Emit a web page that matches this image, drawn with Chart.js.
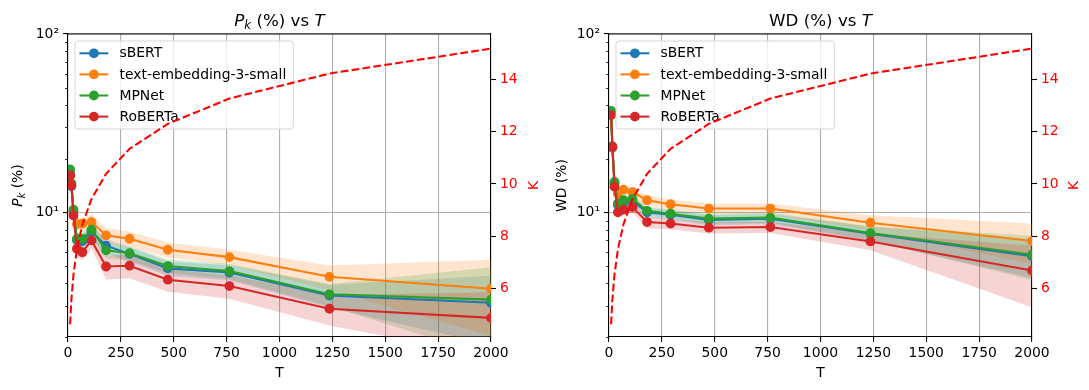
<!DOCTYPE html>
<html><head><meta charset="utf-8">
<script src="https://cdn.jsdelivr.net/npm/chart.js@4/dist/chart.umd.min.js"></script>
<style>
html,body{margin:0;padding:0;background:#fff;}
#wrap{position:relative;width:1089px;height:390px;overflow:hidden;}
canvas{position:absolute;top:0;}
</style></head><body>
<div id="wrap">
<canvas id="c1" width="545" height="390" style="left:0;width:545px;height:390px"></canvas>
<canvas id="c2" width="544" height="390" style="left:545px;width:544px;height:390px"></canvas>
</div>
<script>
// ---- data ----
const T = [10, 16, 26, 42, 68, 111, 180, 291, 472, 763, 1236, 2000];
const K = [4.61, 5.55, 6.52, 7.48, 8.44, 9.42, 10.39, 11.35, 12.31, 13.28, 14.24, 15.2];
const models = ['sBERT', 'text-embedding-3-small', 'MPNet', 'RoBERTa'];

const pkSBERT   = [16.5, 14.0, 10.0, 7.0, 6.9, 7.8, 6.5, 5.85, 4.85, 4.6, 3.42, 3.11];
const pkTE3     = [16.0, 14.3, 10.1, 8.6, 8.64, 8.82, 7.43, 7.11, 6.17, 5.61, 4.35, 3.73];
const pkMPNet   = [17.4, 14.5, 10.35, 7.1, 7.1, 8.0, 6.12, 5.9, 5.0, 4.68, 3.47, 3.24];
const pkRoBERTa = [16.1, 14.2, 9.6, 6.25, 5.98, 6.96, 4.97, 5.02, 4.19, 3.86, 2.88, 2.56];

const pkSBERTStd   = [1.5, 1.3, 0.9, 0.6, 0.6, 0.7, 0.6, 0.55, 0.45, 0.45, 0.5, 1.3];
const pkTE3Std     = [1.5, 1.3, 0.9, 0.7, 0.7, 0.9, 0.75, 0.7, 0.6, 0.55, 0.69, 1.7];
const pkMPNetStd   = [1.5, 1.3, 0.9, 0.6, 0.6, 0.7, 0.6, 0.55, 0.45, 0.45, 0.5, 1.68];
const pkRoBERTaStd = [1.5, 1.3, 0.9, 0.6, 0.6, 0.7, 0.77, 0.75, 0.6, 0.58, 0.56, 1.0];

const wdSBERT   = [36.0, 23.0, 14.5, 11.0, 11.3, 11.6, 10.0, 9.7, 9.05, 9.2, 7.6, 5.68];
const wdTE3     = [36.5, 23.2, 14.5, 12.7, 13.4, 13.0, 11.7, 11.1, 10.5, 10.5, 8.75, 6.9];
const wdMPNet   = [37.1, 23.5, 14.8, 11.2, 11.7, 11.9, 10.2, 9.83, 9.22, 9.34, 7.65, 5.78];
const wdRoBERTa = [35.1, 23.3, 13.9, 10.0, 10.35, 10.7, 8.82, 8.65, 8.2, 8.27, 6.87, 4.72];

const wdSBERTStd   = [2.0, 1.5, 1.0, 0.7, 0.7, 0.7, 0.6, 0.6, 0.6, 0.6, 0.7, 1.4];
const wdTE3Std     = [2.0, 1.5, 1.0, 0.8, 0.8, 0.8, 0.76, 0.7, 0.7, 0.7, 0.87, 1.75];
const wdMPNetStd   = [2.0, 1.5, 1.0, 0.7, 0.7, 0.7, 0.6, 0.6, 0.6, 0.6, 0.7, 1.6];
const wdRoBERTaStd = [2.0, 1.5, 1.0, 0.7, 0.7, 0.7, 0.7, 0.6, 0.6, 0.6, 0.75, 1.78];

const xTicks = [0, 250, 500, 750, 1000, 1250, 1500, 1750, 2000];
const yTicks = [2, 3, 4, 5, 6, 7, 8, 9, 10, 20, 30, 40, 50, 60, 70, 80, 90, 100];
const yMajor = [10, 100];
const kTicks = [6, 8, 10, 12, 14];

// ---- styling ----
const colors = ['#1f77b4', '#ff7f0e', '#2ca02c', '#d62728'];
const fills = ['rgba(31,119,180,0.2)', 'rgba(255,127,14,0.2)', 'rgba(44,160,44,0.2)', 'rgba(214,39,40,0.2)'];
const FONT = 'DejaVu Sans';
const FS = 13.9;
const MR = 4.2;

function fontStr(s, size) {
  const sz = s.sub ? size * 0.7 : size;
  return (s.it ? 'italic ' : '') + sz + 'px "' + FONT + '"';
}
function drawRich(ctx, segs, cx, cy, size, color, rot) {
  ctx.save();
  ctx.translate(cx, cy);
  if (rot) ctx.rotate(rot);
  let w = 0;
  segs.forEach(s => { ctx.font = fontStr(s, size); w += ctx.measureText(s.t).width; });
  let x = -w / 2;
  ctx.fillStyle = color;
  ctx.textBaseline = 'alphabetic';
  ctx.textAlign = 'left';
  segs.forEach(s => {
    ctx.font = fontStr(s, size);
    const y = size * 0.36 + (s.sub ? size * 0.22 : 0);
    ctx.fillText(s.t, x, y);
    x += ctx.measureText(s.t).width;
  });
  ctx.restore();
}

function buildDatasets(series, stds) {
  const ds = [];
  ds.push({
    label: 'K', data: T.map((t, i) => ({x: t, y: K[i]})), yAxisID: 'y2',
    borderColor: '#ff0000', borderDash: [7.7, 3.3], borderWidth: 2.08,
    pointRadius: 0, fill: false, order: 0, tension: 0
  });
  series.forEach((s, j) => {
    ds.push({
      label: models[j], data: T.map((t, i) => ({x: t, y: s[i]})), yAxisID: 'y',
      borderColor: colors[j], backgroundColor: colors[j], borderWidth: 2.08,
      pointRadius: MR, pointBorderWidth: 1.39, pointBackgroundColor: colors[j],
      pointBorderColor: colors[j], fill: false, order: 4 - j, tension: 0
    });
  });
  series.forEach((s, j) => {
    const idx = ds.length;
    ds.push({
      label: '_hi', data: T.map((t, i) => ({x: t, y: s[i] + stds[j][i]})), yAxisID: 'y',
      borderColor: 'rgba(0,0,0,0)', borderWidth: 1, pointRadius: 0,
      backgroundColor: fills[j], fill: idx + 1, order: 8 - j, tension: 0
    });
    ds.push({
      label: '_lo', data: T.map((t, i) => ({x: t, y: Math.max(0.01, s[i] - stds[j][i])})), yAxisID: 'y',
      borderColor: 'rgba(0,0,0,0)', borderWidth: 1, pointRadius: 0,
      backgroundColor: 'rgba(0,0,0,0)', fill: false, order: 8 - j, tension: 0
    });
  });
  return ds;
}

function makeChart(id, W, areaLeft, areaRight, series, stds, title, ylab, klabX) {
  const deco = {
    id: 'deco' + id,
    beforeDatasetDraw(chart, args) {
      if (args.index !== 0) return;
      // legend (drawn below the K line)
      const ctx = chart.ctx, a = chart.chartArea;
      ctx.save();
      ctx.font = FS + 'px "' + FONT + '"';
      let maxW = 0;
      models.forEach(m => { maxW = Math.max(maxW, ctx.measureText(m).width); });
      const bx = a.left + 7, by = a.top + 7;
      const bw = 44.5 + maxW + 7, bh = 88;
      ctx.beginPath();
      const r = 3;
      ctx.moveTo(bx + r, by); ctx.lineTo(bx + bw - r, by); ctx.quadraticCurveTo(bx + bw, by, bx + bw, by + r);
      ctx.lineTo(bx + bw, by + bh - r); ctx.quadraticCurveTo(bx + bw, by + bh, bx + bw - r, by + bh);
      ctx.lineTo(bx + r, by + bh); ctx.quadraticCurveTo(bx, by + bh, bx, by + bh - r);
      ctx.lineTo(bx, by + r); ctx.quadraticCurveTo(bx, by, bx + r, by);
      ctx.closePath();
      ctx.fillStyle = 'rgba(255,255,255,0.8)';
      ctx.fill();
      ctx.strokeStyle = 'rgba(204,204,204,0.8)';
      ctx.lineWidth = 1;
      ctx.stroke();
      models.forEach((m, j) => {
        const yy = by + 12.3 + j * 21.1;
        ctx.strokeStyle = colors[j];
        ctx.lineWidth = 2.08;
        ctx.beginPath(); ctx.moveTo(bx + 4.5, yy); ctx.lineTo(bx + 33.3, yy); ctx.stroke();
        ctx.fillStyle = colors[j];
        ctx.beginPath(); ctx.arc(bx + 18.9, yy, MR + 0.7, 0, Math.PI * 2); ctx.fill();
        ctx.fillStyle = '#000';
        ctx.textBaseline = 'middle';
        ctx.textAlign = 'left';
        ctx.fillText(m, bx + 44.5, yy + 0.5);
      });
      ctx.restore();
    },
    afterDraw(chart) {
      const ctx = chart.ctx, a = chart.chartArea;
      ctx.save();
      // top spine
      ctx.strokeStyle = '#000'; ctx.lineWidth = 1.1;
      ctx.beginPath(); ctx.moveTo(a.left, a.top); ctx.lineTo(a.right, a.top); ctx.stroke();
      // minor ticks on log axis
      const ys = chart.scales.y;
      ctx.lineWidth = 0.83;
      yTicks.forEach(v => {
        if (yMajor.includes(v)) return;
        const py = Math.round(ys.getPixelForValue(v)) + 0.5;
        ctx.beginPath(); ctx.moveTo(a.left - 2.8, py); ctx.lineTo(a.left, py); ctx.stroke();
      });
      ctx.restore();
      const cx = (a.left + a.right) / 2, cy = (a.top + a.bottom) / 2;
      drawRich(ctx, title, cx, 19.5, 16.7, '#000', 0);
      drawRich(ctx, ylab, id === 'c1' ? 17 : 16, cy, FS, '#000', -Math.PI / 2);
      drawRich(ctx, [{t: 'K'}], klabX, cy, FS, '#ff0000', -Math.PI / 2);
      drawRich(ctx, [{t: 'T'}], cx, 372, FS, '#000', 0);
    }
  };

  return new Chart(document.getElementById(id), {
    type: 'line',
    data: {datasets: buildDatasets(series, stds)},
    options: {
      responsive: false, animation: false, events: [],
      layout: {padding: {top: 34, left: 0, right: 0, bottom: 0}},
      plugins: {legend: {display: false}, tooltip: {enabled: false}, title: {display: false}},
      scales: {
        x: {
          type: 'linear', min: 0, max: 2000,
          afterBuildTicks: s => { s.ticks = xTicks.map(v => ({value: v})); },
          ticks: {color: '#000', font: {family: FONT, size: FS}, padding: 3, maxRotation: 0, autoSkip: false,
                  callback: v => String(v)},
          grid: {color: '#b0b0b0', lineWidth: 1.1, tickColor: '#000', tickLength: 5, tickWidth: 1.1},
          border: {display: true, color: '#000', width: 1.1},
          afterFit: s => { s.height = 390 - 337; }
        },
        y: {
          type: 'logarithmic', position: 'left', min: 2, max: 100,
          afterBuildTicks: s => { s.ticks = yTicks.map(v => ({value: v, major: yMajor.includes(v)})); },
          ticks: {
            autoSkip: false, color: '#000', font: {family: FONT, size: FS}, padding: 4,
            callback: v => (v === 10 ? '10\u00B9' : (v === 100 ? '10\u00B2' : ''))
          },
          grid: {
            color: c => (c.tick && yMajor.includes(c.tick.value) ? '#b0b0b0' : 'rgba(0,0,0,0)'),
            tickColor: c => (c.tick && yMajor.includes(c.tick.value) ? '#000' : 'rgba(0,0,0,0)'),
            lineWidth: 1.1, tickLength: 5, tickWidth: 1.1
          },
          border: {display: true, color: '#000', width: 1.1},
          afterFit: s => { s.width = areaLeft; }
        },
        y2: {
          type: 'linear', position: 'right', min: 4.12, max: 15.76,
          afterBuildTicks: s => { s.ticks = kTicks.map(v => ({value: v})); },
          ticks: {color: '#ff0000', font: {family: FONT, size: FS}, padding: 4, autoSkip: false},
          grid: {drawOnChartArea: false, tickColor: '#000', tickLength: 5, tickWidth: 1.1},
          border: {display: true, color: '#000', width: 1.1},
          afterFit: s => { s.width = W - areaRight; }
        }
      }
    },
    plugins: [deco]
  });
}

makeChart('c1', 545, 68, 491,
  [pkSBERT, pkTE3, pkMPNet, pkRoBERTa],
  [pkSBERTStd, pkTE3Std, pkMPNetStd, pkRoBERTaStd],
  [{t: 'P', it: true}, {t: 'k', it: true, sub: true}, {t: ' (%) vs '}, {t: 'T', it: true}],
  [{t: 'P', it: true}, {t: 'k', it: true, sub: true}, {t: ' (%)'}],
  533);
makeChart('c2', 544, 64, 487,
  [wdSBERT, wdTE3, wdMPNet, wdRoBERTa],
  [wdSBERTStd, wdTE3Std, wdMPNetStd, wdRoBERTaStd],
  [{t: 'WD (%) vs '}, {t: 'T', it: true}],
  [{t: 'WD (%)'}],
  528);
</script>
</body></html>
